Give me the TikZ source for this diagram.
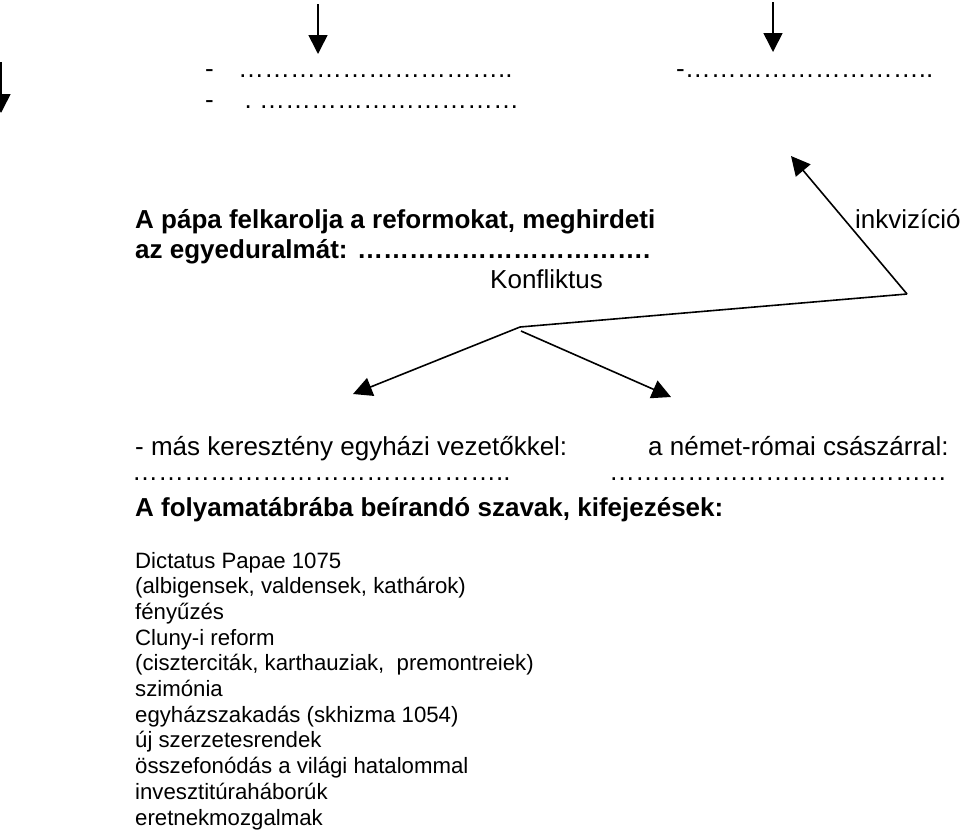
\documentclass[tikz,border=0pt]{standalone}
\usepackage{fontspec}
\setmainfont{Liberation Sans}
\usetikzlibrary{arrows.meta}
\newcommand\ellrep[1]{\foreach \k in {1,...,#1}{…}}
\begin{document}
\begin{tikzpicture}[x=1pt,y=-1pt,
  txt/.style={anchor=base west, inner sep=0pt, font=\fontsize{26}{30}\selectfont},
  btxt/.style={anchor=base west, inner sep=0pt, font=\fontsize{26}{30}\selectfont\bfseries},
  lst/.style={anchor=base west, inner sep=0pt, font=\fontsize{22.2}{25.7}\selectfont},
  arr/.style={line width=1.6pt, -{Triangle[length=19pt,width=19pt]}},
  ln/.style={line width=1.6pt}]
\useasboundingbox (0,0) rectangle (960,831);

% top arrows
\coordinate (a1s) at (1,62);  \coordinate (a1e) at (1,113);
\coordinate (a2s) at (318,4); \coordinate (a2e) at (318,54);
\coordinate (a3s) at (773,2); \coordinate (a3e) at (773,52);
\draw[arr] (a1s) -- (a1e);
\draw[arr] (a2s) -- (a2e);
\draw[arr] (a3s) -- (a3e);

% dotted rows at top
\node[txt] (dashA) at (205,77) {-};
\node[txt] (dotsA) at (238,77) {\ellrep{10}..};
\node[txt] (dashB) at (676,77) {-\ellrep{9}..};
\node[txt] (dashC) at (205,108) {-};
\node[txt] (dotC)  at (244.5,108) {.};
\node[txt] (dotsC) at (259,108) {\ellrep{10}};

% bold sentence
\node[btxt] (papa1) at (135,228) {A pápa felkarolja a reformokat, meghirdeti};
\node[btxt] (papa2) at (135,258) {az egyeduralmát: \ellrep{11}.};
\node[txt] (konf) at (490,288) {Konfliktus};
\node[txt] (inkv) at (855,228) {inkvizíció};

% connectors
\coordinate (J1) at (520,327);
\coordinate (J2) at (521,331);
\coordinate (E) at (907,294);
\coordinate (U) at (791,156);
\coordinate (L) at (353,394);
\coordinate (R) at (671,397);
\draw[ln] (J1) -- (E);
\draw[arr] (E) -- (U);
\draw[arr] (J1) -- (L);
\draw[arr] (J2) -- (R);

% second level
\node[txt] (mas) at (135,455) {- más keresztény egyházi vezetőkkel:};
\node[txt] (nemet) at (648,455) {a német-római császárral:};
\node[txt] (dotsL) at (132,480) {\ellrep{14}..};
\node[txt] (dotsR) at (609,480) {\ellrep{13}};

% heading
\node[btxt] (head) at (135,516) {A folyamatábrába beírandó szavak, kifejezések:};

% word list
\node[lst] (w1)  at (135,568)   {Dictatus Papae 1075};
\node[lst] (w2)  at (135,593.7) {(albigensek, valdensek, kathárok)};
\node[lst] (w3)  at (135,619.4) {fényűzés};
\node[lst] (w4)  at (135,645.1) {Cluny-i reform};
\node[lst] (w5)  at (135,670.8) {(ciszterciták, karthauziak,\ \ premontreiek)};
\node[lst] (w6)  at (135,696.5) {szimónia};
\node[lst] (w7)  at (135,722.2) {egyházszakadás (skhizma 1054)};
\node[lst] (w8)  at (135,747.9) {új szerzetesrendek};
\node[lst] (w9)  at (135,773.6) {összefonódás a világi hatalommal};
\node[lst] (w10) at (135,799.3) {invesztitúraháborúk};
\node[lst] (w11) at (135,825)   {eretnekmozgalmak};
\end{tikzpicture}
\end{document}
